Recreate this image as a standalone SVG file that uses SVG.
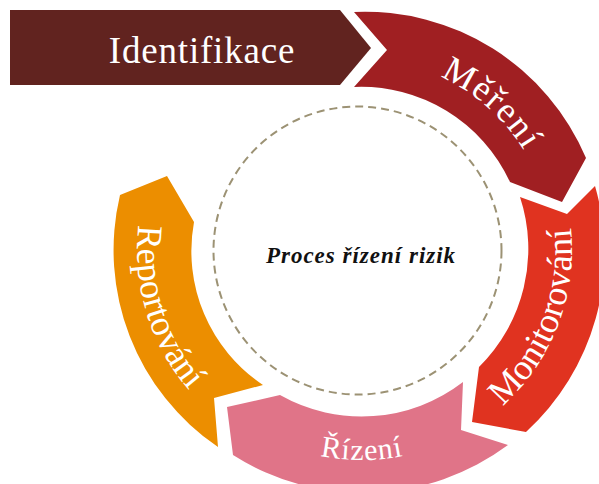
<svg xmlns="http://www.w3.org/2000/svg" width="599" height="484" viewBox="0 0 599 484">
<style>
.lbl{font-family:"Liberation Serif","Times New Roman",serif;fill:#ffffff;font-size:36px;letter-spacing:1.8px}
.ctr{font-family:"Liberation Serif","Times New Roman",serif;font-weight:bold;font-style:italic;font-size:23px;fill:#111111;letter-spacing:1px}
.dash{fill:none;stroke:#9c9274;stroke-width:2;stroke-dasharray:8 5}
</style>
<defs>
<path id="pMereni" d="M 367 60.1 A 190 190 0 0 1 549.9 221.9"/>
<path id="pMonit" d="M 447.4 441.8 A 210 210 0 0 0 553.8 164.6"/>
<path id="pRizeni" d="M 227 410.9 A 210 210 0 0 0 497 410.9"/>
<path id="pReport" d="M 154.1 166 A 215 215 0 0 0 234.9 430.3"/>
</defs>
<rect width="599" height="484" fill="#ffffff"/>
<g id="center">
<circle class="dash" cx="357.5" cy="250.5" r="144"/>
<text class="ctr" x="361" y="263" text-anchor="middle">Proces řízení rizik</text>
</g>
<g id="identifikace">
<polygon points="10,10 340,10 371,48 340,85 10,85" fill="#61231f"/>
<text class="lbl" x="202" y="63" text-anchor="middle" style="font-size:37px;letter-spacing:0.8px">Identifikace</text>
</g>
<g id="mereni">
<path d="M 354 12 A 240 240 0 0 1 586 158 L 562 202 L 510 182 A 164 164 0 0 0 354 87 L 387 50 Z" fill="#a01f22"/>
<text class="lbl"><textPath href="#pMereni" startOffset="50%" text-anchor="middle">Měření</textPath></text>
</g>
<g id="monitorovani">
<path d="M 520 197 L 567 214 L 595 186 A 242 242 0 0 1 526 432 L 472 422 L 479 367 A 166 166 0 0 0 520 197 Z" fill="#e03320"/>
<text class="lbl" style="letter-spacing:0px"><textPath href="#pMonit" startOffset="50%" text-anchor="middle">Monitorování</textPath></text>
</g>
<g id="rizeni">
<path d="M 463 382 L 461 430 L 508 445 A 243 243 0 0 1 233 455 L 227 407 L 280 395 A 166 166 0 0 0 463 382 Z" fill="#e07488"/>
<text class="lbl" style="font-size:30px;letter-spacing:1px"><textPath href="#pRizeni" startOffset="50%" text-anchor="middle">Řízení</textPath></text>
</g>
<g id="reportovani">
<path d="M 263 385 L 214 398 L 218 447 A 238 238 0 0 1 120 195 L 167 176 L 194 222 A 161 161 0 0 0 263 385 Z" fill="#ec8e00"/>
<text class="lbl" style="letter-spacing:0px"><textPath href="#pReport" startOffset="50%" text-anchor="middle">Reportování</textPath></text>
</g>
<g id="connectors"/>
</svg>
